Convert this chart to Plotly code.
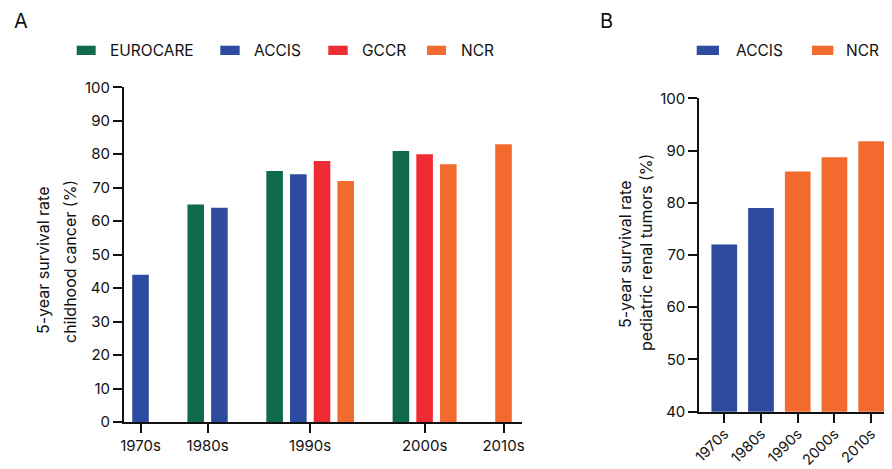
import plotly.graph_objects as go

# ---- data -------------------------------------------------------------
decades = ["1970s", "1980s", "1990s", "2000s", "2010s"]

# Panel A: 5-year survival, childhood cancer (%), by registry
eurocare = [None, 65, 75, 81, None]
accis = [44, 64, 74, None, None]
gccr = [None, None, 78, 80, None]
ncr = [None, None, 72, 77, 83]

# Panel B: 5-year survival, pediatric renal tumors (%)
renal_accis = [72, 79, None, None, None]
renal_ncr = [None, None, 86, 88.7, 91.8]

registries_a = ["EUROCARE", "ACCIS", "GCCR", "NCR"]
registries_b = ["ACCIS", "NCR"]

# ---- style ------------------------------------------------------------
COLORS = {"EUROCARE": "#106B4B", "ACCIS": "#2D4C9F", "GCCR": "#EF2B33", "NCR": "#F26A2E"}
FONT = "Inter"
INK = "#111111"
W, H = 892, 469


def px(x):
    return x / W


def py(y):
    return 1 - y / H


fig = go.Figure()

# ---- panel A: bars packed per decade, only registries with data --------
series_a = {"EUROCARE": eurocare, "ACCIS": accis, "GCCR": gccr, "NCR": ncr}
positions = {name: [] for name in registries_a}
values = {name: [] for name in registries_a}
tick_pos = []
cursor = 0.0
GROUP_GAP = 1.33
for i, dec in enumerate(decades):
    slots = []
    for name in registries_a:
        v = series_a[name][i]
        if v is not None:
            positions[name].append(cursor)
            values[name].append(v)
            slots.append(cursor)
            cursor += 1
    tick_pos.append(sum(slots) / len(slots))
    cursor += GROUP_GAP

for name in registries_a:
    fig.add_trace(go.Bar(
        x=positions[name], y=values[name], name=name, width=0.7,
        marker=dict(color=COLORS[name], line=dict(width=0)),
        xaxis="x", yaxis="y", showlegend=False,
    ))

# ---- panel B -------------------------------------------------------------
for name, vals in (("ACCIS", renal_accis), ("NCR", renal_ncr)):
    xs = [i for i, v in enumerate(vals) if v is not None]
    ys = [v for v in vals if v is not None]
    fig.add_trace(go.Bar(
        x=xs, y=ys, name=name, width=0.7,
        marker=dict(color=COLORS[name], line=dict(width=0)),
        xaxis="x2", yaxis="y2", showlegend=False,
    ))

axis_common = dict(
    showline=True, linewidth=2, linecolor=INK, ticks="outside", ticklen=9,
    tickwidth=2, tickcolor=INK, showgrid=False, zeroline=False,
    fixedrange=True, automargin=False,
)
TICKFONT = dict(size=15, family=FONT, color=INK)

fig.update_layout(
    width=W, height=H, autosize=False,
    margin=dict(l=0, r=0, t=0, b=0, pad=0),
    paper_bgcolor="white", plot_bgcolor="white",
    barmode="overlay",
    font=dict(family=FONT, color=INK),
    xaxis=dict(
        domain=[px(124), px(522)], range=[-0.697, 16.10],
        tickvals=tick_pos, ticktext=decades, tickfont=TICKFONT,
        anchor="y", **axis_common,
    ),
    yaxis=dict(
        domain=[py(422), py(87.3)], range=[0, 100], dtick=10,
        tickfont=TICKFONT, anchor="x", **axis_common,
    ),
    xaxis2=dict(
        domain=[px(699.3), px(884)], range=[-0.68, 4.35],
        tickvals=list(range(len(decades))), ticktext=decades, tickangle=-45,
        tickfont=dict(size=14.5, family=FONT, color=INK),
        ticklabelstandoff=-3,
        anchor="y2", **axis_common,
    ),
    yaxis2=dict(
        domain=[py(411.7), py(98.3)], range=[40, 100], dtick=10,
        tickfont=TICKFONT, anchor="x2", **axis_common,
    ),
)

# ---- legends (wide swatches + labels) ---------------------------------
shapes = []
annotations = []


def legend_item(x0, x1, xt, label):
    shapes.append(dict(
        type="rect", xref="paper", yref="paper",
        x0=px(x0), x1=px(x1), y0=py(55), y1=py(45.7),
        fillcolor=COLORS[label], line=dict(width=0),
    ))
    annotations.append(dict(
        text=label, xref="paper", yref="paper", x=px(xt), y=py(50.5),
        xanchor="left", yanchor="middle", showarrow=False,
        font=dict(size=15.5, family=FONT, color=INK),
    ))


legend_item(76.7, 95.7, 108, "EUROCARE")
legend_item(220.3, 239.7, 252, "ACCIS")
legend_item(328.3, 347.7, 360, "GCCR")
legend_item(427, 446, 459, "NCR")
legend_item(696.7, 719, 734, "ACCIS")
legend_item(812, 833.3, 844, "NCR")

# ---- panel letters -----------------------------------------------------
for letter, x in (("A", 11.5), ("B", 598)):
    annotations.append(dict(
        text=letter, xref="paper", yref="paper", x=px(x), y=py(20.5),
        xanchor="left", yanchor="middle", showarrow=False,
        font=dict(size=20, family=FONT, color=INK),
    ))

# ---- y-axis titles (two lines each) -----------------------------------
for text, x, y in (
    ("5-year survival rate", 43, 260),
    ("childhood cancer (%)", 70, 262),
    ("5-year survival rate", 625, 254),
    ("pediatric renal tumors (%)", 646, 253),
):
    annotations.append(dict(
        text=text, xref="paper", yref="paper", x=px(x), y=py(y),
        xanchor="center", yanchor="middle", textangle=-90, showarrow=False,
        font=dict(size=16, family=FONT, color=INK),
    ))

fig.update_layout(shapes=shapes, annotations=annotations)

fig.write_html("out.html")
